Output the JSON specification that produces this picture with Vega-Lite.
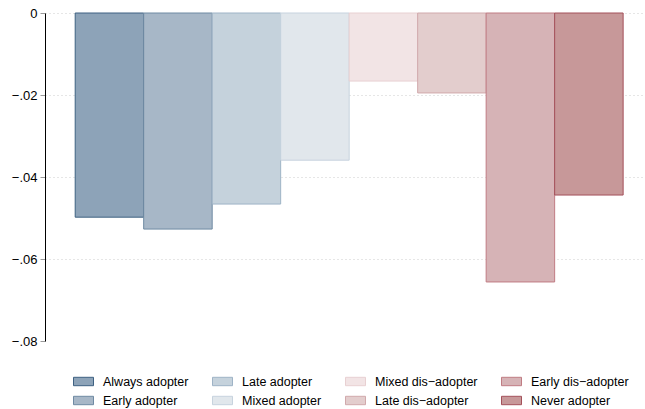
{
  "$schema": "https://vega.github.io/schema/vega-lite/v6.json",
  "autosize": "none",
  "padding": {"left": 45, "top": 13, "right": 0, "bottom": 68},
  "width": 600,
  "height": 328,
  "background": "white",
  "config": {
    "font": "Liberation Sans",
    "view": {"stroke": null}
  },
  "data": {
    "values": [
      {"group": "Always adopter", "value": -0.0498},
      {"group": "Early adopter", "value": -0.0527},
      {"group": "Late adopter", "value": -0.0466},
      {"group": "Mixed adopter", "value": -0.0359},
      {"group": "Mixed dis−adopter", "value": -0.0166},
      {"group": "Late dis−adopter", "value": -0.0195},
      {"group": "Early dis−adopter", "value": -0.0656},
      {"group": "Never adopter", "value": -0.0444}
    ]
  },
  "mark": {"type": "bar", "strokeWidth": 1, "fillOpacity": 1, "cornerRadius": 0},
  "encoding": {
    "x": {
      "field": "group",
      "type": "nominal",
      "sort": ["Always adopter", "Early adopter", "Late adopter", "Mixed adopter", "Mixed dis−adopter", "Late dis−adopter", "Early dis−adopter", "Never adopter"],
      "scale": {"paddingInner": 0, "paddingOuter": 0.38, "align": 0.58},
      "axis": null
    },
    "y": {
      "field": "value",
      "type": "quantitative",
      "scale": {"domain": [-0.08, 0], "nice": false, "zero": true},
      "axis": {
        "title": null,
        "values": [0, -0.02, -0.04, -0.06, -0.08],
        "labelExpr": "datum.value == 0 ? '0' : '−' + slice(format(abs(datum.value), '.2f'), 1)",
        "labelFontSize": 13,
        "labelColor": "black",
        "labelPadding": 3,
        "tickColor": "#999999",
        "tickSize": 5,
        "domainColor": "black",
        "domainWidth": 1,
        "grid": true,
        "gridColor": "#cccccc",
        "gridDash": [1, 3],
        "gridWidth": 1,
        "gridOpacity": {"condition": {"test": "datum.value == -0.08", "value": 0}, "value": 1}
      }
    },
    "fill": {
      "field": "group",
      "type": "nominal",
      "scale": {
        "domain": ["Always adopter", "Late adopter", "Mixed dis−adopter", "Early dis−adopter", "Early adopter", "Mixed adopter", "Late dis−adopter", "Never adopter"],
        "range": ["#8DA3B8", "#C5D2DC", "#F2E4E5", "#D6B3B6", "#A7B7C7", "#E1E7EC", "#E3CDCD", "#C79899"]
      },
      "legend": {
        "title": null,
        "orient": "none",
        "legendX": 28,
        "legendY": 358,
        "direction": "horizontal",
        "columns": 4,
        "columnPadding": 21,
        "rowPadding": 2,
        "symbolType": "M-1,-0.42H1V0.42H-1Z",
        "symbolSize": 400,
        "symbolStrokeWidth": 1,
        "symbolOpacity": 1,
        "labelFontSize": 12.5,
        "labelColor": "black",
        "labelOffset": 9
      }
    },
    "stroke": {
      "field": "group",
      "type": "nominal",
      "scale": {
        "domain": ["Always adopter", "Late adopter", "Mixed dis−adopter", "Early dis−adopter", "Early adopter", "Mixed adopter", "Late dis−adopter", "Never adopter"],
        "range": ["#3E6182", "#9EB3C6", "#E8D0D2", "#C07C83", "#6F8AA3", "#C7D3DE", "#D1A9AC", "#A4505A"]
      },
      "legend": {
        "title": null,
        "orient": "none",
        "legendX": 28,
        "legendY": 358,
        "direction": "horizontal",
        "columns": 4,
        "columnPadding": 21,
        "rowPadding": 2,
        "symbolType": "M-1,-0.42H1V0.42H-1Z",
        "symbolSize": 400,
        "symbolStrokeWidth": 1,
        "labelFontSize": 12.5,
        "labelColor": "black",
        "labelOffset": 9
      }
    }
  }
}
